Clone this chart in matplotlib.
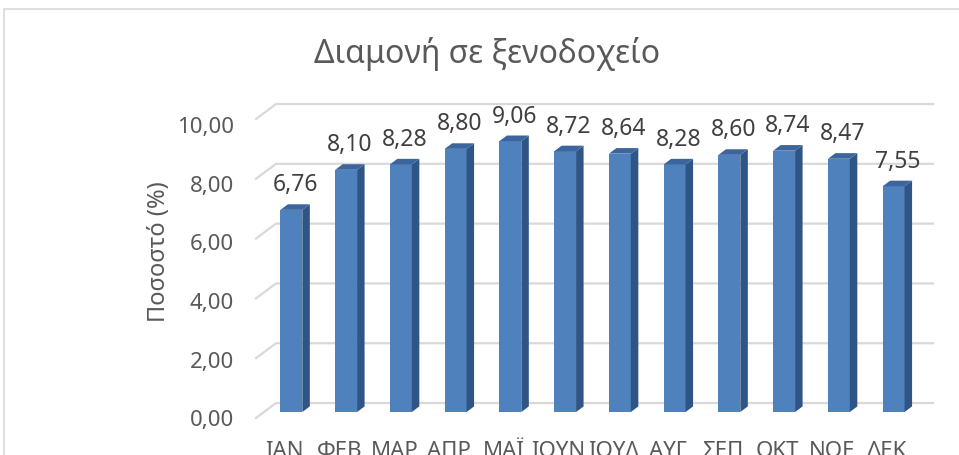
import matplotlib
matplotlib.use("Agg")
import matplotlib.pyplot as plt
from matplotlib.patches import Polygon, Rectangle
import numpy as np

plt.rcParams['font.family'] = ['Noto Sans', 'DejaVu Sans']

months = ['ΙΑΝ', 'ΦΕΒ', 'ΜΑΡ', 'ΑΠΡ', 'ΜΑΪ', 'ΙΟΥΝ', 'ΙΟΥΛ', 'ΑΥΓ', 'ΣΕΠ', 'ΟΚΤ', 'ΝΟΕ', 'ΔΕΚ']
values = [6.76, 8.10, 8.28, 8.80, 9.06, 8.72, 8.64, 8.28, 8.60, 8.74, 8.47, 7.55]
yticks = [0, 2, 4, 6, 8, 10]
title = 'Διαμονή σε ξενοδοχείο'
ylabel = 'Ποσοστό (%)'

front_col = '#4F81BD'
side_col = '#2F5486'
top_col = '#3C659E'
grid_col = '#D9D9D9'
text_col = '#595959'

W, H = 959, 456
fig = plt.figure(figsize=(W / 100, H / 100), dpi=100)
ax = fig.add_axes([264 / W, (H - 413) / H, 657 / W, 299 / H])
ax.set_xlim(-0.5, len(months) - 0.5)
ax.set_ylim(0, 10)
ax.axis('off')

# pseudo-3d offsets (data units)
back_dx, back_dy = 0.219, 0.30
front_dx, front_dy = -0.146, -0.20
bar_dx, bar_dy = 0.137, 0.187
bw = 0.40

# chart frame
fig.patches.append(Rectangle((4 / W, -0.1), 1.2, (H - 10) / H + 0.1, transform=fig.transFigure,
                             facecolor='none', edgecolor=grid_col, lw=1.2))

# gridlines on back wall + floor/side diagonals
x0, x1 = -0.5, len(months) - 0.5
for v in yticks:
    ax.plot([x0 + front_dx, x0 + back_dx, x1 + back_dx], [v + front_dy, v + back_dy, v + back_dy],
            color=grid_col, lw=1.6, clip_on=False, zorder=1)
    ax.annotate(f'{v:.2f}'.replace('.', ','), xy=(x0, v * 0.98), xytext=(-21.6, -5.5), textcoords='offset points',
                ha='right', va='center', fontsize=16, color=text_col, annotation_clip=False)

x = np.arange(len(months))
ax.bar(x, values, width=bw, color=front_col, zorder=3, clip_on=False)
for xi, v in zip(x, values):
    r = xi + bw / 2
    l = xi - bw / 2
    ax.add_patch(Polygon([(r, 0), (r + bar_dx, bar_dy), (r + bar_dx, v + bar_dy), (r, v)],
                         closed=True, facecolor=side_col, edgecolor='none', zorder=3, clip_on=False))
    ax.add_patch(Polygon([(l, v), (r, v), (r + bar_dx, v + bar_dy), (l + bar_dx, v + bar_dy)],
                         closed=True, facecolor=top_col, edgecolor='none', zorder=3, clip_on=False))
    ax.annotate(f'{v:.2f}'.replace('.', ','), xy=(xi + bar_dx / 2, v + bar_dy), xytext=(0, 10),
                textcoords='offset points', ha='center', va='baseline', fontsize=16.5, color='#404040',
                annotation_clip=False)

for xi, m in zip(x, months):
    ax.annotate(m, xy=(xi - 0.12, 0), xytext=(0, -31.5), textcoords='offset points',
                ha='center', va='baseline', fontsize=16, color=text_col, annotation_clip=False)

fig.text(487 / W, 1 - 63 / H, title, ha='center', va='baseline', fontsize=23, color=text_col)
fig.text(159 / W, 1 - 252 / H, ylabel, ha='center', va='center', rotation=90, fontsize=17, color=text_col)

fig.savefig('out.png', dpi=100)
